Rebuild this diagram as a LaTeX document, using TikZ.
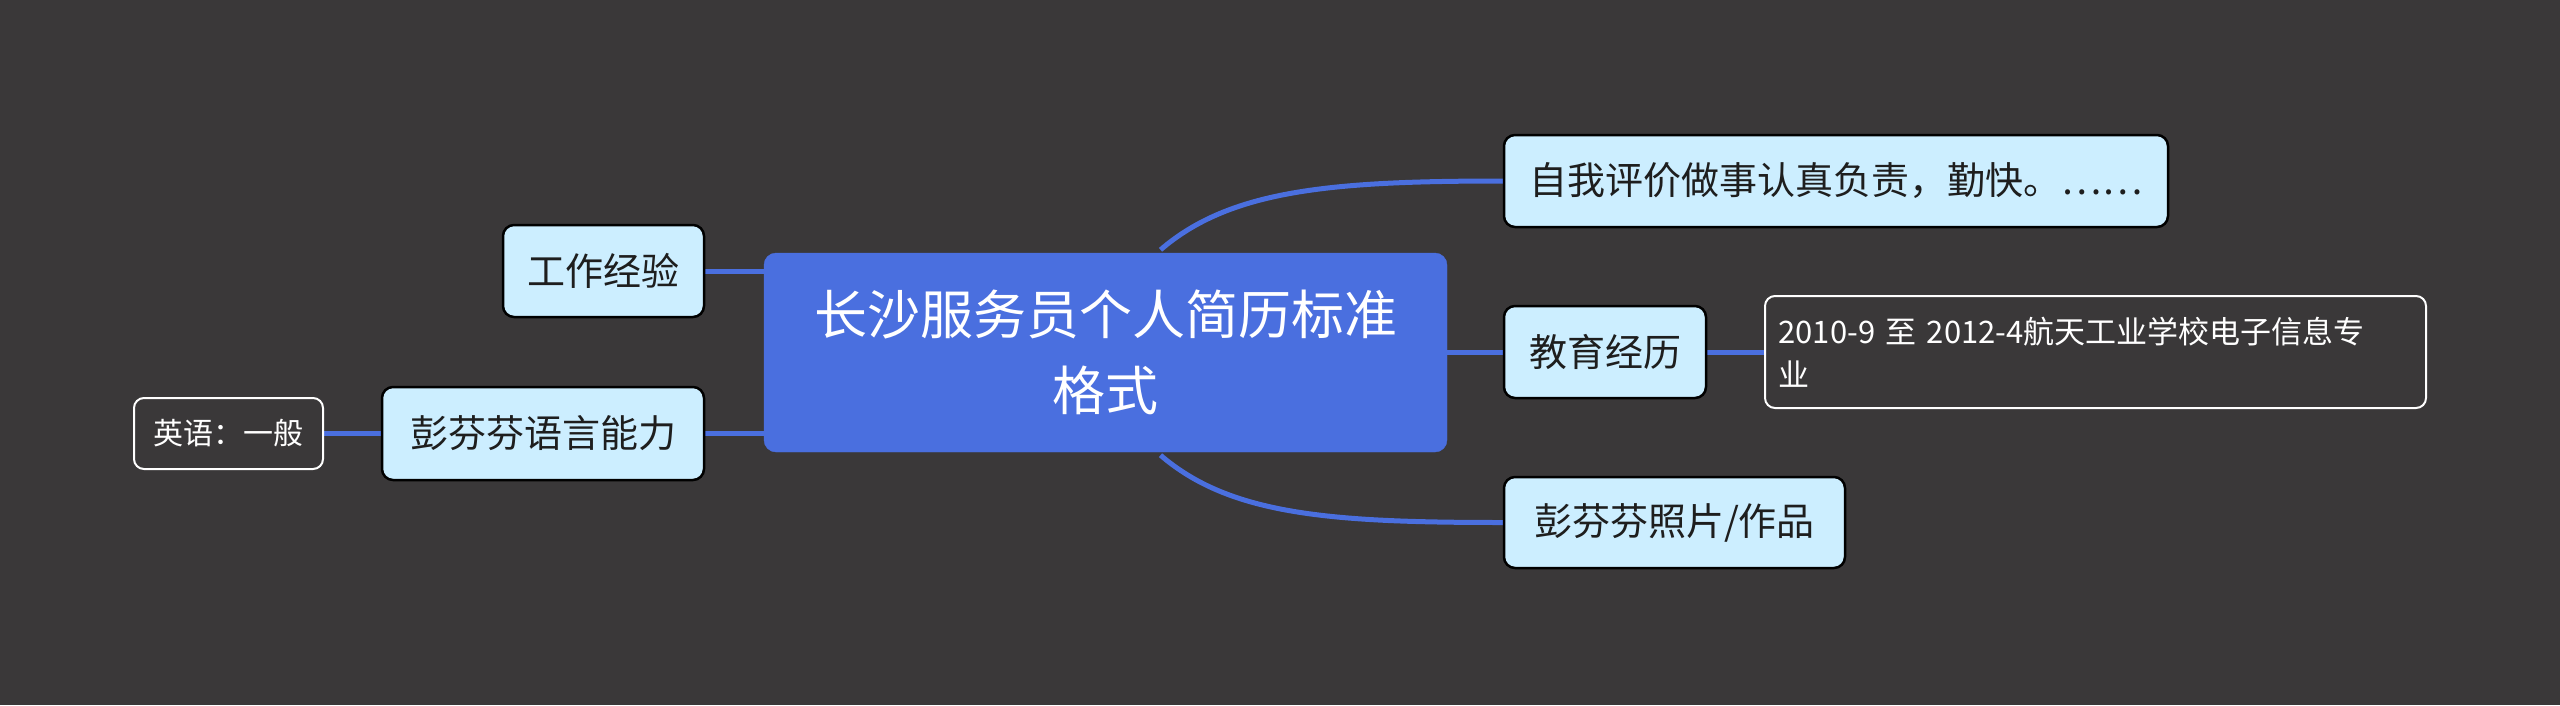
\documentclass[tikz,border=0pt]{standalone}
\usepackage{fontspec}
\setmainfont{Noto Sans CJK SC}
\definecolor{bgc}{RGB}{58,56,57}
\definecolor{linec}{RGB}{74,111,223}
\definecolor{lightc}{RGB}{204,238,255}
\definecolor{darktext}{RGB}{30,30,30}
\pgfdeclarelayer{back}
\pgfsetlayers{back,main}
\tikzset{
  conn/.style={draw=linec, line width=5pt},
  rootbox/.style={draw=linec, fill=linec, rounded corners=12pt, text=white, align=center, inner sep=0pt,
    font=\fontsize{53}{76}\selectfont},
  mainbox/.style={draw=black, line width=2.5pt, fill=lightc, rounded corners=11pt, text=darktext, inner sep=0pt,
    font=\fontsize{38}{46}\selectfont},
  leafbox/.style={draw=white, line width=2pt, fill=bgc, rounded corners=10pt, text=white, inner sep=0pt,
    font=\fontsize{31}{43}\selectfont},
}
\begin{document}
\begin{tikzpicture}[x=1pt,y=-1pt]
\begin{pgfonlayer}{back}
\fill[bgc] (0,0) rectangle (2560,705);
\end{pgfonlayer}
\useasboundingbox (0,0) rectangle (2560,705);
% nodes
\node[rootbox, minimum width=683pt, minimum height=199pt] (root) at (1105.5,352.5) {长沙服务员个人简历标准\\格式};
\node[mainbox, minimum width=664pt, minimum height=92pt] (self) at (1836,181) {自我评价做事认真负责，勤快。……};
\node[mainbox, minimum width=202pt, minimum height=92pt] (edu) at (1605,352) {教育经历};
\node[leafbox, minimum width=661pt, minimum height=112pt, text width=634pt, align=left] (eduleaf) at (2095.5,352) {2010-9 至 2012-4航天工业学校电子信息专\\业};
\node[mainbox, minimum width=341pt, minimum height=91pt] (photo) at (1674.5,522.5) {彭芬芬照片/作品};
\node[mainbox, minimum width=201pt, minimum height=92pt] (work) at (603.5,271) {工作经验};
\node[mainbox, minimum width=322pt, minimum height=93pt] (lang) at (543,433.5) {彭芬芬语言能力};
\node[leafbox, minimum width=189pt, minimum height=71pt, font=\fontsize{30}{40}\selectfont] (eng) at (228.5,433.5) {英语：一般};
% connectors
\begin{pgfonlayer}{back}
\coordinate (rtop) at ([xshift=55pt]root.north);
\coordinate (rbot) at ([xshift=55pt]root.south);
\draw[conn] ([yshift=3pt]rtop) .. controls (1230,190) and (1330,181) .. (self.west);
\draw[conn] ([yshift=-3pt]rbot) .. controls (1230,515) and (1330,522.5) .. (photo.west);
\draw[conn] (root.east |- edu.west) -- (edu.west);
\draw[conn] (edu.east) -- (eduleaf.west);
\draw[conn] (work.east) -- (work.east -| root.west);
\draw[conn] (lang.east) -- (lang.east -| root.west);
\draw[conn] (eng.east) -- (lang.west);
\end{pgfonlayer}
\end{tikzpicture}
\end{document}
